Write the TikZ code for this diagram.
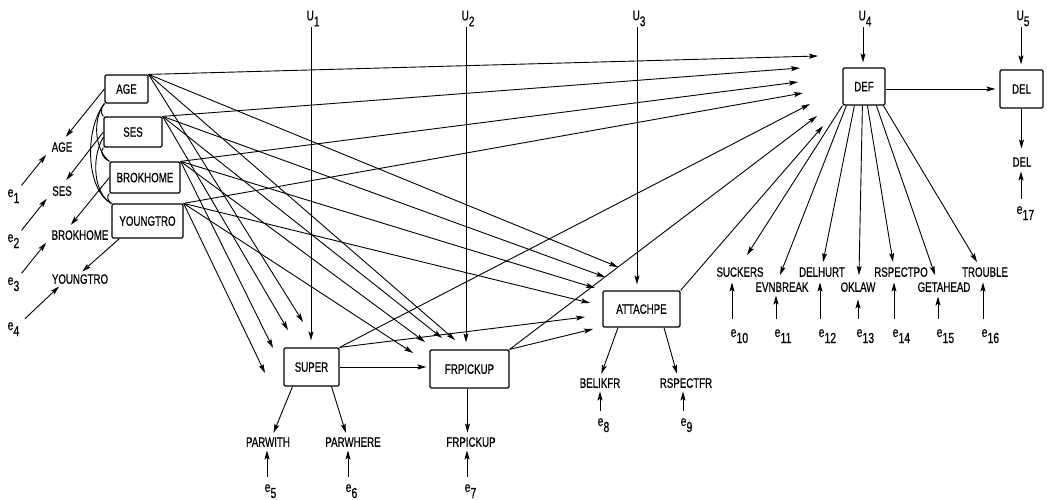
\documentclass[tikz,border=0pt]{standalone}
\usepackage{fontspec}
\newfontfamily\lab[FakeStretch=0.72,FakeBold=0.6]{Liberation Sans}
\usetikzlibrary{arrows.meta}
\newcommand{\sbs}[1]{\raisebox{-6pt}{#1}}
\begin{document}
\begin{tikzpicture}[x=1pt,y=-1pt,
  every node/.style={font=\lab\fontsize{13.5}{13.5}\selectfont},
  box/.style={draw,line width=1.2pt,rounded corners=1.2pt,inner sep=0pt,text height=9.5pt,text depth=0pt},
  lbl/.style={inner sep=0.5pt,text height=9.5pt,text depth=0pt},
  elbl/.style={inner sep=0.5pt,anchor=base west,font=\lab\fontsize{14.5}{14.5}\selectfont},
  ulbl/.style={inner sep=0.5pt,anchor=south,font=\lab\fontsize{14}{14}\selectfont},
  arr/.style={-{Stealth[length=9pt,width=5pt,inset=1.8pt]},line width=0.9pt},
  con/.style={line width=0.9pt}]
\useasboundingbox (0,0) rectangle (1047,500);
% boxes
\node[box,minimum width=43pt,minimum height=28pt] (AGE) at (126.5,89) {AGE};
\node[box,minimum width=58pt,minimum height=30pt] (SES) at (133,132) {SES};
\node[box,minimum width=70pt,minimum height=31pt] (BROK) at (145,177.5) {BROKHOME};
\node[box,minimum width=71pt,minimum height=34pt] (YT) at (147.5,221) {YOUNGTRO};
\node[box,minimum width=55pt,minimum height=38pt] (SUPER) at (311.5,367) {SUPER};
\node[box,minimum width=79pt,minimum height=38pt] (FRP) at (469.5,369) {FRPICKUP};
\node[box,minimum width=77pt,minimum height=36pt] (ATT) at (641.5,309) {ATTACHPE};
\node[box,minimum width=42pt,minimum height=37pt] (DEF) at (864,86.5) {DEF};
\node[box,minimum width=43pt,minimum height=38pt] (DEL) at (1021.5,89) {DEL};
% indicator labels
\node[lbl] (AGEl) at (62,147) {AGE};
\node[lbl] (SESl) at (62,191) {SES};
\node[lbl] (BROKl) at (80,235) {BROKHOME};
\node[lbl] (YTl) at (80,279) {YOUNGTRO};
\node[lbl] (PW) at (268,442) {PARWITH};
\node[lbl] (PWH) at (353,442) {PARWHERE};
\node[lbl] (FRPl) at (471,442) {FRPICKUP};
\node[lbl] (BEL) at (600,383) {BELIKFR};
\node[lbl] (RSF) at (686,383) {RSPECTFR};
\node[lbl] (SUCK) at (740,272) {SUCKERS};
\node[lbl] (EVN) at (782,287) {EVNBREAK};
\node[lbl] (DHU) at (822,272) {DELHURT};
\node[lbl] (OKL) at (858,287) {OKLAW};
\node[lbl] (RSPO) at (901,272) {RSPECTPO};
\node[lbl] (GET) at (944,287) {GETAHEAD};
\node[lbl] (TRO) at (985,272) {TROUBLE};
\node[lbl] (DELl) at (1022,162) {DEL};
% error / disturbance labels
\node[elbl] (e1) at (7,197) {e\sbs{1}};
\node[elbl] (e2) at (7,242) {e\sbs{2}};
\node[elbl] (e3) at (7,285) {e\sbs{3}};
\node[elbl] (e4) at (7,330) {e\sbs{4}};
\node[elbl] (e5) at (264,492) {e\sbs{5}};
\node[elbl] (e6) at (345,492) {e\sbs{6}};
\node[elbl] (e7) at (464,492) {e\sbs{7}};
\node[elbl] (e8) at (597,426) {e\sbs{8}};
\node[elbl] (e9) at (680,426) {e\sbs{9}};
\node[elbl] (e10) at (730,337) {e\sbs{10}};
\node[elbl] (e11) at (774,337) {e\sbs{11}};
\node[elbl] (e12) at (818,337) {e\sbs{12}};
\node[elbl] (e13) at (856,337) {e\sbs{13}};
\node[elbl] (e14) at (892,337) {e\sbs{14}};
\node[elbl] (e15) at (936,337) {e\sbs{15}};
\node[elbl] (e16) at (981,337) {e\sbs{16}};
\node[elbl] (e17) at (1016,214) {e\sbs{17}};
\node[ulbl] (U1) at (313,27) {U\sbs{1}};
\node[ulbl] (U2) at (468,27) {U\sbs{2}};
\node[ulbl] (U3) at (639,27) {U\sbs{3}};
\node[ulbl] (U4) at (865,27) {U\sbs{4}};
\node[ulbl] (U5) at (1023,27) {U\sbs{5}};
% arrow tip coordinates
\coordinate (dA) at (818,56);  \coordinate (dS) at (800,68);
\coordinate (dB) at (798,82);  \coordinate (dY) at (803,93);
\coordinate (dSu) at (810,104); \coordinate (dF) at (817,116);
\coordinate (dAt) at (823,126);
\coordinate (aA) at (618,267); \coordinate (aS) at (605,277);
\coordinate (aB) at (595,288); \coordinate (aY) at (590,303);
\coordinate (aSu) at (585,317); \coordinate (aF) at (593,329);
\coordinate (fA) at (455,340); \coordinate (fS) at (442,338);
\coordinate (fB) at (425,342); \coordinate (fY) at (413,353);
\coordinate (sA) at (303,322); \coordinate (sS) at (288,330);
\coordinate (sB) at (273,348); \coordinate (sY) at (265,373);
\coordinate (o1) at (747,255); \coordinate (o2) at (780,275);
\coordinate (o3) at (823,262); \coordinate (o4) at (859,275);
\coordinate (o5) at (893,262); \coordinate (o6) at (935,275);
\coordinate (o7) at (977,262);
% correlation arcs
\draw[con] (AGE.south west) .. controls (101,107) and (100,113) .. (SES.north west);
\draw[con] (AGE.south west) .. controls (92,120) and (95,150) .. (BROK.north west);
\draw[con] (AGE.south west) .. controls (84,130) and (86,190) .. (YT.north west);
\draw[con] ([yshift=-5pt]SES.west) .. controls (90,160) and (95,195) .. (YT.north west);
\draw[con] (SES.south west) .. controls (99,152) and (103,158) .. (BROK.north west);
\draw[con] (BROK.south west) .. controls (106,196) and (108,201) .. (YT.north west);
% exogenous -> endogenous
\foreach \s/\a/\b/\c/\d in {AGE/dA/aA/fA/sA, SES/dS/aS/fS/sS, BROK/dB/aB/fB/sB, YT/dY/aY/fY/sY}{
  \draw[arr] (\s.north east) -- (\a);
  \draw[arr] (\s.north east) -- (\b);
  \draw[arr] (\s.north east) -- (\c);
  \draw[arr] (\s.north east) -- (\d);
}
\draw[arr] (SUPER.north east) -- (dSu);
\draw[arr] (SUPER.north east) -- (aSu);
\draw[arr] (FRP.north east) -- (dF);
\draw[arr] (FRP.north east) -- (aF);
\draw[arr] (ATT.north east) -- (dAt);
\draw[arr,shorten >=3pt] (SUPER.east) -- (SUPER.east -| FRP.west);
\draw[arr,shorten >=4pt] ([yshift=-2.5pt]DEF.east) -- ([yshift=-2.5pt]DEF.east -| DEL.west);
% U arrows
\draw[arr,shorten >=7pt] ([xshift=-2pt]U1.south) -- ([xshift=-2pt]U1.south |- SUPER.north);
\draw[arr,shorten >=7pt] ([xshift=-2pt]U2.south) -- ([xshift=-2pt]U2.south |- FRP.north);
\draw[arr,shorten >=6pt] ([xshift=-2pt]U3.south) -- ([xshift=-2pt]U3.south |- ATT.north);
\draw[arr,shorten >=5pt] ([xshift=-2pt]U4.south) -- ([xshift=-2pt]U4.south |- DEF.north);
\draw[arr,shorten >=5pt] ([xshift=-2pt]U5.south) -- ([xshift=-2pt]U5.south |- DEL.north);
% measurement arrows (left)
\draw[arr,shorten >=6pt] (AGE.west) -- (AGEl.north);
\draw[arr,shorten >=7pt] (SES.west) -- (SESl.north);
\draw[arr,shorten >=6pt] (BROK.west) -- ([xshift=-13pt]BROKl.north);
\draw[arr,shorten >=3pt] ([xshift=8pt]YT.south west) -- (YTl.north);
\draw[arr,shorten <=4pt,shorten >=3pt] ([xshift=-1pt]e1.north east) -- ([xshift=-3pt]AGEl.south west);
\draw[arr,shorten <=4pt,shorten >=3pt] ([xshift=-1pt]e2.north east) -- ([xshift=-3pt]SESl.south west);
\draw[arr,shorten <=4pt,shorten >=3pt] ([xshift=-1pt]e3.north east) -- ([xshift=-3pt]BROKl.south west);
\draw[arr,shorten <=4pt,shorten >=3pt] ([xshift=2pt]e4.north east) -- ([xshift=10pt]YTl.south west);
% measurement arrows (bottom)
\draw[arr,shorten >=4pt] ([xshift=-19pt]SUPER.south) -- ([xshift=4pt]PW.north);
\draw[arr,shorten >=4pt] ([xshift=20pt]SUPER.south) -- ([xshift=-6pt]PWH.north);
\draw[arr,shorten >=4pt] ([xshift=-2pt]FRP.south) -- ([xshift=-2pt]FRP.south |- FRPl.north);
\draw[arr,shorten >=4pt] ([xshift=-23.5pt]ATT.south) -- (BEL.north);
\draw[arr,shorten >=4pt] ([xshift=22.5pt]ATT.south) -- ([xshift=-8pt]RSF.north);
\draw[arr,shorten >=8pt] (DEL.south) -- (DEL.south |- DELl.north);
\foreach \e/\t in {e5/PW, e6/PWH, e7/FRPl, e8/BEL, e9/RSF}{
  \draw[arr,shorten <=7pt,shorten >=3pt] ([xshift=3pt]\e.north west) -- ([xshift=3pt]\e.north west |- \t.south);
}
\draw[arr,shorten <=6pt,shorten >=4pt] ([xshift=5pt]e17.north west) -- ([xshift=5pt]e17.north west |- DELl.south);
% DEF outputs
\foreach \k/\o in {0/o1, 4/o2, 12/o3, 20/o4, 25/o5, 34/o6, 41/o7}{
  \draw[arr] ([xshift=\k pt]DEF.south west) -- (\o);
}
\foreach \e/\t/\sh in {e10/SUCK/5, e11/EVN/3, e12/DHU/5, e13/OKL/7, e14/RSPO/5, e15/GET/4, e16/TRO/5}{
  \draw[arr,shorten <=9pt,shorten >=\sh pt] ([xshift=2pt]\e.north west) -- ([xshift=2pt]\e.north west |- \t.south);
}
\end{tikzpicture}
\end{document}
